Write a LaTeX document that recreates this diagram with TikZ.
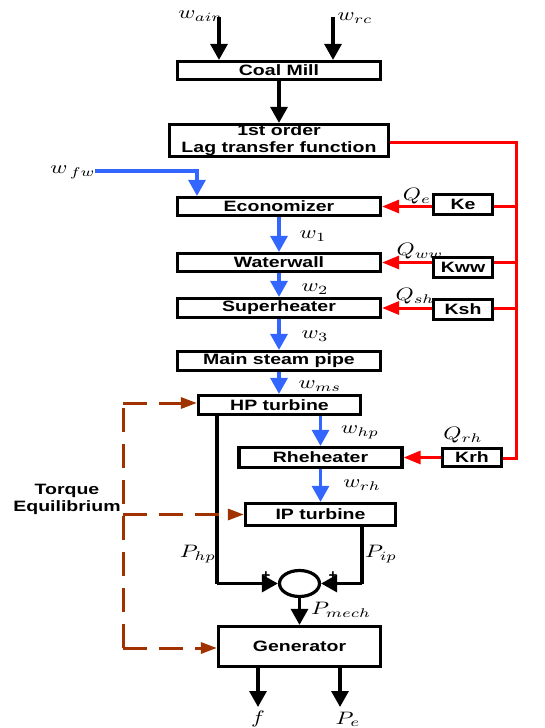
\documentclass[tikz,border=0pt]{standalone}
\usepackage{fontspec}
\setmainfont{Liberation Sans}
\usetikzlibrary{arrows.meta,shapes.geometric}
\definecolor{fblue}{RGB}{51,102,255}
\definecolor{fred}{RGB}{255,0,0}
\definecolor{fbrown}{RGB}{160,50,0}
\newcommand{\bxt}[1]{\scalebox{1.3}[1]{\fontsize{15}{17}\selectfont\bfseries #1}}
\newcommand{\mlab}[1]{\scalebox{2.3}[1.8]{$#1$}}
\begin{document}
\begin{tikzpicture}[x=1pt,y=-1pt,
  blk/.style={draw,line width=3.2pt,rectangle,inner sep=0pt,font=\fontsize{15}{17}\selectfont},
  barr/.style={line width=3.2pt,-{Triangle[length=16pt,width=17pt]}},
  bline/.style={line width=3.2pt},
  blarr/.style={line width=3.2pt,fblue,-{Triangle[length=16pt,width=17pt]}},
  rline/.style={line width=3pt,fred},
  rarr/.style={line width=3pt,fred,-{Triangle[length=17pt,width=13pt]}},
  brarr/.style={line width=3pt,fbrown,dash pattern=on 24pt off 12pt,-{Triangle[length=16pt,width=11pt]}},
  brline/.style={line width=3pt,fbrown,dash pattern=on 24pt off 12pt},
  lab/.style={inner sep=0pt}]
\useasboundingbox (0,0) rectangle (545,728);
% boxes
\node[blk,minimum width=203pt,minimum height=18pt] (coal) at (279,70.5) {\bxt{Coal Mill}};
\node[blk,minimum width=219pt,minimum height=32pt,align=center] (lag) at (279,140.5) {\bxt{1st order}\\\bxt{Lag transfer function}};
\node[blk,minimum width=203pt,minimum height=18pt] (econ) at (279,206.5) {\bxt{Economizer}};
\node[blk,minimum width=203pt,minimum height=18pt] (ww) at (279,262.5) {\bxt{Waterwall}};
\node[blk,minimum width=203pt,minimum height=19pt] (sh) at (279,308) {\bxt{Superheater}};
\node[blk,minimum width=203pt,minimum height=19pt] (msp) at (279,361) {\bxt{Main steam pipe}};
\node[blk,minimum width=162pt,minimum height=19pt] (hp) at (279.5,405) {\bxt{HP turbine}};
\node[blk,minimum width=163pt,minimum height=20pt] (rh) at (320.5,457.5) {\bxt{Rheheater}};
\node[blk,minimum width=150pt,minimum height=22pt] (ip) at (320.5,514.5) {\bxt{IP turbine}};
\node[blk,minimum width=162pt,minimum height=40pt] (gen) at (299.5,646.5) {\bxt{Generator}};
\node[blk,minimum width=59pt,minimum height=20pt] (ke) at (463,204.5) {\bxt{Ke}};
\node[blk,minimum width=59pt,minimum height=20pt] (kww) at (463,267.5) {\bxt{Kww}};
\node[blk,minimum width=59pt,minimum height=20pt] (ksh) at (463,309.5) {\bxt{Ksh}};
\node[blk,minimum width=59pt,minimum height=18pt] (krh) at (472,457.5) {\bxt{Krh}};
\node[draw,ellipse,line width=3.2pt,minimum width=40pt,minimum height=26pt,inner sep=0pt] (sum) at (299.5,583.5) {};
% coordinates
\coordinate (wa) at (219,17);
\coordinate (wr) at (333,17);
\coordinate (fw) at (95,171);
\coordinate (fwc) at (197,171);
\coordinate (bus) at (516,142);
\coordinate (busb) at (516,458);
\coordinate (hpl) at (217,0);
\coordinate (ipr) at (362,0);
\coordinate (fo) at (258,707);
\coordinate (peo) at (340,707);
\coordinate (tq) at (123,403);
\coordinate (tqb) at (123,648);
% black arrows
\draw[barr] (wa) -- (wa |- coal.north);
\draw[barr] (wr) -- (wr |- coal.north);
\draw[barr] (coal.south) -- (lag.north);
\draw[bline] (hpl |- hp.south) -- (hpl |- sum) coordinate (sl);
\draw[barr] (sl) -- (sum.west);
\draw[bline] (ipr |- ip.south) -- (ipr |- sum) coordinate (sr);
\draw[barr] (sr) -- (sum.east);
\draw[barr] (sum.south) -- (sum.south |- gen.north);
\draw[barr] (fo |- gen.south) -- (fo);
\draw[barr] (peo |- gen.south) -- (peo);
% blue arrows
\draw[blarr] (fw) -- (fwc) -- (fwc |- econ.north);
\draw[blarr] (econ.south) -- (ww.north);
\draw[blarr] (ww.south) -- (sh.north);
\draw[blarr] (sh.south) -- (msp.north);
\draw[blarr] (msp.south) -- (msp.south |- hp.north);
\draw[blarr] (rh.north |- hp.south) -- (rh.north);
\draw[blarr] (rh.south) -- (ip.north);
% red
\draw[rline] (lag.east |- bus) -- (bus) -- (busb) -- (krh.east |- busb);
\draw[rline] (bus |- econ) -- (ke.east |- econ);
\draw[rline] (bus |- ww) -- (kww.east |- ww);
\draw[rline] (bus |- sh) -- (ksh.east |- sh);
\draw[rarr] (ke.west |- econ) -- (econ.east);
\draw[rarr] (kww.west |- ww) -- (ww.east);
\draw[rarr] (ksh.west |- sh) -- (sh.east);
\draw[rarr] (krh.west |- rh) -- (rh.east);
% brown dashed
\draw[brline] (tqb) -- (tq);
\draw[brarr] (tq) -- (tq -| hp.west);
\draw[brarr] (123,514.5) -- (ip.west);
\draw[brarr] (tqb) -- (tqb -| gen.west);
% labels
\node[lab] (lwa) at (200,16) {\mlab{w_{air}}};
\node[lab] (lwr) at (355,18) {\mlab{w_{rc}}};
\node[lab] (lfw) at (73,172) {\mlab{w_{\,fw}}};
\node[lab] (lqe) at (417,196) {\mlab{Q_e}};
\node[lab] (lw1) at (313,236) {\mlab{w_1}};
\node[lab] (lqww) at (420,251) {\mlab{Q_{ww}}};
\node[lab] (lw2) at (315,289) {\mlab{w_2}};
\node[lab] (lqsh) at (415,296) {\mlab{Q_{sh}}};
\node[lab] (lw3) at (315,336) {\mlab{w_3}};
\node[lab] (lwms) at (320,386) {\mlab{w_{ms}}};
\node[lab] (lwhp) at (360,432) {\mlab{w_{hp}}};
\node[lab] (lqrh) at (463,435) {\mlab{Q_{rh}}};
\node[lab] (lwrh) at (362,485) {\mlab{w_{rh}}};
\node[lab] (tq1) at (67,491) {\bxt{Torque}};
\node[lab] (tq2) at (67,507.5) {\bxt{Equilibrium}};
\node[lab] (lphp) at (198,554) {\mlab{P_{hp}}};
\node[lab] (lpip) at (381,554) {\mlab{P_{ip}}};
\node[lab] (pl1) at (266,576) {\fontsize{15}{15}\selectfont\bfseries +};
\node[lab] (pl2) at (333,576) {\fontsize{15}{15}\selectfont\bfseries +};
\node[lab] (lpm) at (341,610) {\mlab{P_{mech}}};
\node[lab,anchor=south] (lf) at (258,727) {\mlab{f}};
\node[lab,anchor=south] (lpe) at (348,727) {\mlab{P_e}};
\end{tikzpicture}
\end{document}
